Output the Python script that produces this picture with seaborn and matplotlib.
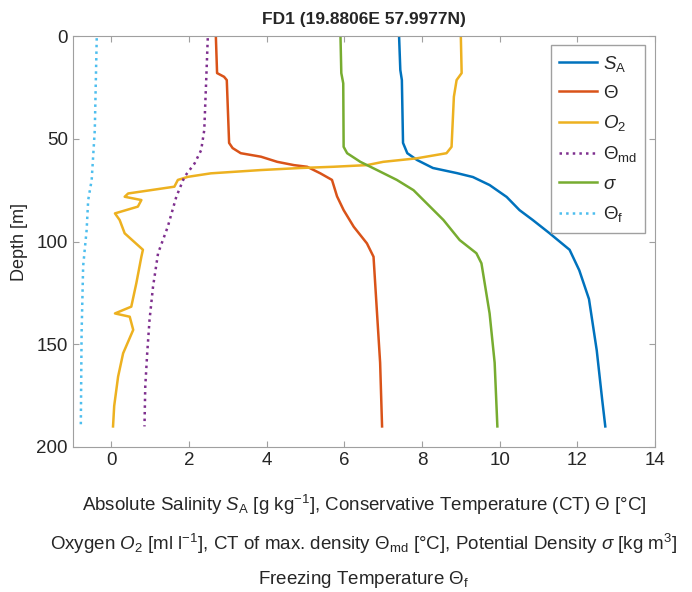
"""CTD profile at station FD1: salinity, temperature, oxygen, density."""

import matplotlib
matplotlib.use("Agg")
import matplotlib.pyplot as plt
import pandas as pd
import seaborn as sns

# depth [m] / value pairs
sa_depth = [1, 16.5, 21.4, 52, 57, 60.3, 64.2, 66.7, 68.6, 72.5, 78.3, 84.7,
            89.5, 95.9, 104, 114, 128, 153, 177, 190]
sa_val = [7.41, 7.44, 7.48, 7.51, 7.62, 7.87, 8.28, 8.90, 9.31, 9.74, 10.18,
          10.51, 10.85, 11.28, 11.8, 12.05, 12.3, 12.5, 12.64, 12.72]

ct_depth = [1, 18, 19.8, 21.4, 52, 54.5, 57, 58.7, 61.2, 62.8, 63.6, 66.8,
            70, 78, 84.7, 92.8, 100.9, 107.4, 134.8, 159, 190]
ct_val = [2.69, 2.72, 2.9, 2.97, 3.03, 3.12, 3.33, 3.85, 4.27, 4.7, 5.04,
          5.38, 5.68, 5.81, 5.98, 6.24, 6.58, 6.75, 6.84, 6.92, 6.97]

o2_depth = [1, 18, 21.4, 29.5, 53.9, 57, 59.5, 61.2, 62.8, 63.6, 64.2, 65.2,
            66.8, 68.5, 70, 73.3, 76.6, 78.2, 79.8, 83, 86.3, 89.5, 96, 104,
            107.4, 120.3, 131.7, 135, 136.6, 143, 154.4, 165.8, 180, 190]
o2_val = [9.0, 9.02, 8.89, 8.82, 8.76, 8.63, 7.86, 7.0, 6.58, 5.72, 4.87,
          3.85, 2.56, 1.97, 1.71, 1.62, 0.43, 0.34, 0.77, 0.68, 0.09, 0.21,
          0.34, 0.81, 0.77, 0.64, 0.51, 0.09, 0.47, 0.56, 0.30, 0.17, 0.07,
          0.04]

md_depth = [1, 21.4, 45.7, 55.5, 62, 68.5, 78.2, 92.8, 105.7, 122, 138.2,
            154.4, 170.6, 190]
md_val = [2.48, 2.44, 2.39, 2.31, 2.14, 1.88, 1.67, 1.45, 1.2, 1.07, 0.98,
          0.92, 0.87, 0.85]

sig_depth = [1, 18, 23, 53.9, 57, 61.2, 65.2, 70, 75, 81.4, 89.5, 99.3,
             105.7, 110.6, 135, 159, 190]
sig_val = [5.9, 5.92, 5.97, 5.98, 6.07, 6.41, 6.84, 7.35, 7.78, 8.12, 8.55,
           8.97, 9.40, 9.53, 9.74, 9.87, 9.94]

fz_depth = [1, 45.7, 70, 79.8, 94.4, 112, 144.7, 190]
fz_val = [-0.38, -0.43, -0.51, -0.6, -0.64, -0.73, -0.77, -0.79]

plt.rcParams['font.family'] = ['Liberation Sans', 'DejaVu Sans']
plt.rcParams['mathtext.fontset'] = 'custom'
plt.rcParams['mathtext.it'] = 'Liberation Sans:italic'
plt.rcParams['mathtext.rm'] = 'Liberation Sans'

profiles = [
    (r'$S_\mathrm{A}$', sa_depth, sa_val, '#0072BD', '-'),
    (r'$\Theta$', ct_depth, ct_val, '#D95319', '-'),
    (r'$O_2$', o2_depth, o2_val, '#EDB120', '-'),
    (r'$\Theta_\mathrm{md}$', md_depth, md_val, '#7E2F8E', ':'),
    (r'$\sigma$', sig_depth, sig_val, '#77AC30', '-'),
    (r'$\Theta_\mathrm{f}$', fz_depth, fz_val, '#4DBEEE', ':'),
]

fig = plt.figure(figsize=(6.92, 5.92), dpi=100)
ax = fig.add_axes([0.105, 0.245, 0.8415, 0.694])

for name, dep, val, col, ls in profiles:
    df = pd.DataFrame({'value': val, 'depth': dep})
    sns.lineplot(df, x='value', y='depth', sort=False, estimator=None,
                 color=col, linestyle=ls, linewidth=1.8, label=name, ax=ax)

ax.set_xlim(-1, 14)
ax.set_ylim(200, 0)
ax.set_xticks(range(0, 15, 2))
ax.set_yticks(range(0, 201, 50))
ax.tick_params(direction='in', top=True, right=True, length=4,
               labelsize=13.5, colors='#a0a0a0', labelcolor='#262626')
for sp in ax.spines.values():
    sp.set_color('#a0a0a0')

ax.set_ylabel('Depth [m]', fontsize=13, color='#262626', labelpad=6)
ax.set_xlabel(r'Absolute Salinity $S_\mathrm{A}$ [g kg$^{-1}$], '
              r'Conservative Temperature (CT) $\Theta$ [°C]' '\n'
              r'Oxygen $O_2$ [ml l$^{-1}$], CT of max. density '
              r'$\Theta_\mathrm{md}$ [°C], Potential Density $\sigma$ [kg m$^3$]'
              '\n' r'Freezing Temperature $\Theta_\mathrm{f}$',
              fontsize=13.5, color='#262626', linespacing=1.85, labelpad=17)
ax.set_title('FD1 (19.8806E 57.9977N)', fontsize=12.5, fontweight='bold',
             color='#262626', pad=9)

leg = ax.legend(loc='upper right', bbox_to_anchor=(0.983, 0.978),
                borderaxespad=0, fontsize=13.5, handlelength=2.0,
                handletextpad=0.3, labelspacing=0.6, fancybox=False,
                framealpha=1, edgecolor='#a0a0a0', borderpad=0.45)
for t in leg.get_texts():
    t.set_color('#262626')

fig.savefig('out.png', dpi=100)
